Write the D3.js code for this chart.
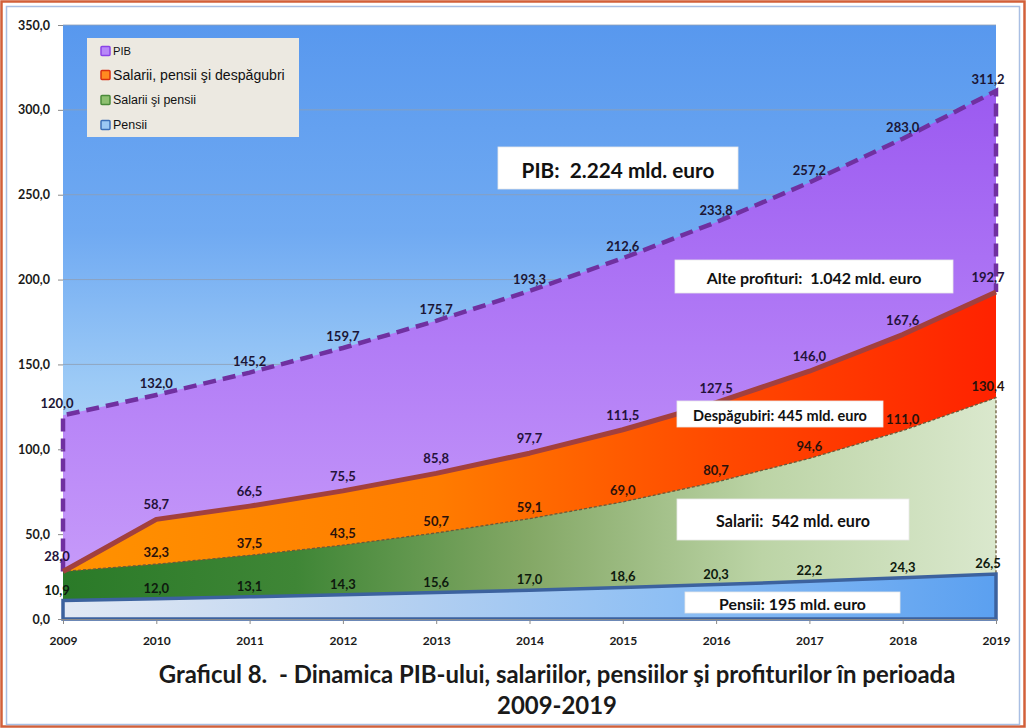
<!DOCTYPE html>
<html><head><meta charset="utf-8">
<script src="https://cdn.jsdelivr.net/npm/d3@7"></script>
<style>
html,body{margin:0;padding:0;background:#fff;}
svg{display:block;}
svg text{white-space:pre;}
</style></head>
<body>
<svg id="c" width="1026" height="728"></svg>
<script>
const years = [2009,2010,2011,2012,2013,2014,2015,2016,2017,2018,2019];
const pib = [120.0,132.0,145.2,159.7,175.7,193.3,212.6,233.8,257.2,283.0,311.2];
const salPensDesp = [28.0,58.7,66.5,75.5,85.8,97.7,111.5,127.5,146.0,167.6,192.7];
const salPens = [28.0,32.3,37.5,43.5,50.7,59.1,69.0,80.7,94.6,111.0,130.4];
const pensii = [10.9,12.0,13.1,14.3,15.6,17.0,18.6,20.3,22.2,24.3,26.5];
const yTicks = [0,50,100,150,200,250,300,350];
const legendLabels = ["PIB","Salarii, pensii şi despăgubri","Salarii şi pensii","Pensii"];
const annotations = ["PIB:  2.224 mld. euro","Alte profituri:  1.042 mld. euro","Despăgubiri: 445 mld. euro","Salarii:  542 mld. euro","Pensii: 195 mld. euro"];
const titleLines = ["Graficul 8.  - Dinamica PIB-ului, salariilor, pensiilor şi profiturilor în perioada","2009-2019"];

const svg = d3.select("#c");
const W = 1026, H = 728;
const x = d3.scaleLinear().domain([2009,2019]).range([63,996]);
const y = d3.scaleLinear().domain([0,350]).range([619,25]);
const fmt = v => d3.format(".1f")(v).replace(".", ",");
const FONT = "Lato, 'Open Sans', sans-serif";

function fitWidth(sel, target){
  const fs = +sel.attr("font-size");
  const w = sel.node().getComputedTextLength();
  if (w > 0) sel.attr("font-size", fs*target/w);
}

// outer borders
svg.append("rect").attr("x",1.5).attr("y",1.5).attr("width",W-3).attr("height",H-3)
  .attr("fill","#fff").attr("stroke","#d2603a").attr("stroke-width",2.5);
svg.append("rect").attr("x",6.5).attr("y",6.5).attr("width",W-13).attr("height",H-10)
  .attr("fill","none").attr("stroke","#a9bfe3").attr("stroke-width",1.5);

const defs = svg.append("defs");
function lin(id, x1,y1,x2,y2, stops){
  const g = defs.append("linearGradient").attr("id",id).attr("gradientUnits","userSpaceOnUse")
    .attr("x1",x1).attr("y1",y1).attr("x2",x2).attr("y2",y2);
  stops.forEach(s=>g.append("stop").attr("offset",s[0]).attr("stop-color",s[1]));
}
lin("bg", 0,y(350),0,y(0), [[0,"#5898ee"],[0.35,"#70aaf2"],[0.6,"#9ccaf6"],[0.8,"#bcdcf8"],[1,"#d6ebfc"]]);
lin("gPib", 0,y(320),0,y(0), [[0,"#9a58f0"],[0.5,"#b27cf6"],[1,"#caa0fa"]]);
lin("gOr", x(2009),0,x(2019),0, [[0,"#ff9200"],[0.4,"#ff7c00"],[0.7,"#ff4a00"],[1,"#ff2200"]]);
lin("gGr", x(2009),0,x(2019),0, [[0,"#2a7a28"],[0.25,"#3f8636"],[0.5,"#84a866"],[0.75,"#bcd4a6"],[1,"#dae8cd"]]);
lin("gPe", x(2009),0,x(2019),0, [[0,"#e2e9f4"],[0.3,"#bdd4f0"],[0.65,"#8ebff4"],[1,"#5ba0f0"]]);

// plot background
svg.append("rect").attr("x",x(2009)).attr("y",y(350)).attr("width",x(2019)-x(2009)).attr("height",y(0)-y(350))
  .attr("fill","url(#bg)");
// gridlines
svg.append("g").selectAll("line").data(yTicks.slice(1)).join("line")
  .attr("x1",x(2009)).attr("x2",x(2019)).attr("y1",d=>y(d)).attr("y2",d=>y(d))
  .attr("stroke","#8f9fb5").attr("stroke-width",1).attr("opacity",0.8);

const idx = d3.range(years.length);
const area = arr => d3.area().x(i=>x(years[i])).y0(y(0)).y1(i=>y(arr[i]))(idx);
const line = arr => d3.line().x(i=>x(years[i])).y(i=>y(arr[i]))(idx);

svg.append("path").attr("d",area(pib)).attr("fill","url(#gPib)");
svg.append("path").attr("d",area(salPensDesp)).attr("fill","url(#gOr)");
svg.append("path").attr("d",area(salPens)).attr("fill","url(#gGr)");
svg.append("path").attr("d",area(pensii)).attr("fill","url(#gPe)");

// PIB dashed outline (left, top, right)
const pibOutline = [[x(2009),y(salPensDesp[0])],[x(2009),y(pib[0])]]
  .concat(idx.map(i=>[x(years[i]),y(pib[i])]))
  .concat([[x(2019),y(salPensDesp[salPensDesp.length-1])]]);
svg.append("path").attr("d",d3.line()(pibOutline)).attr("fill","none")
  .attr("stroke","#7030a0").attr("stroke-width",4.5).attr("stroke-dasharray","13,7");
// green top thin dashed + right edge
const grOutline = idx.map(i=>[x(years[i]),y(salPens[i])]).concat([[x(2019),y(pensii[pensii.length-1])]]);
svg.append("path").attr("d",d3.line()(grOutline)).attr("fill","none")
  .attr("stroke","#6b5a3a").attr("stroke-width",1.3).attr("stroke-dasharray","3,2");
// orange top solid
svg.append("path").attr("d",line(salPensDesp)).attr("fill","none")
  .attr("stroke","#a2403e").attr("stroke-width",5).attr("stroke-linejoin","round");
// pensii outline
svg.append("path").attr("d",area(pensii)).attr("fill","none")
  .attr("stroke","#3c629e").attr("stroke-width",3.5).attr("stroke-linejoin","miter");

// axes
const yAxis = d3.axisLeft(y).tickValues(yTicks).tickSize(5).tickFormat(fmt);
const gy = svg.append("g").attr("transform",`translate(${x(2009)},0)`).call(yAxis);
gy.select(".domain").remove();
gy.selectAll("line").attr("stroke","#8a8a8a");
gy.selectAll("text").attr("x",-13).attr("font-family",FONT).attr("font-weight","bold")
  .attr("font-size",12.5).attr("fill","#1a1a1a");
const xAxis = d3.axisBottom(x).tickValues(years).tickSize(5).tickFormat(d3.format("d"));
const gx = svg.append("g").attr("transform",`translate(0,${y(0)})`).call(xAxis);
gx.select(".domain").attr("stroke","#8a8a8a");
gx.selectAll("line").attr("stroke","#8a8a8a");
gx.selectAll("text").attr("y",17).attr("font-family",FONT).attr("font-weight","bold")
  .attr("font-size",12).attr("fill","#1a1a1a");

// data labels (a label identical to the one of the series above at the same point is shown once)
function labels(arr, dy, color, above){
  const show = idx.filter(i => !(above && above[i] === arr[i]));
  svg.append("g").selectAll("text").data(show).join("text")
    .attr("x",i=> x(years[i]) + (i===years.length-1 ? -8 : (i===0 ? -6 : 0)))
    .attr("y",i=> y(arr[i]) - dy)
    .attr("text-anchor","middle").attr("dominant-baseline","central")
    .attr("font-family",FONT).attr("font-weight","bold").attr("font-size",13)
    .attr("fill",color).text(i=>fmt(arr[i]));
}
labels(pib, 12, "#1c1636");
labels(salPensDesp, 15, "#24123a");
labels(salPens, 12, "#2a120c", salPensDesp);
labels(pensii, 11, "#0e1a0e");

// legend
const lg = svg.append("g");
lg.append("rect").attr("x",87).attr("y",38).attr("width",212).attr("height",99).attr("fill","#ece9e1");
const legColors = [["#8a44e8","#b888f8"],["#d83010","#ff8a20"],["#4a8a3a","#8ec070"],["#3c6fb8","#9cc8f4"]];
const legY = [51,75,100,125];
const legW = [18,172,83,34];
legendLabels.forEach((t,i)=>{
  lg.append("rect").attr("x",101).attr("y",legY[i]-4.5).attr("width",9).attr("height",9)
    .attr("fill",legColors[i][1]).attr("stroke",legColors[i][0]).attr("stroke-width",1.5).attr("rx",1);
  const tx = lg.append("text").attr("x",113).attr("y",legY[i]).attr("dominant-baseline","central")
    .attr("font-family","'Liberation Sans', Arial, sans-serif").attr("font-size",12)
    .attr("fill","#111").text(t);
  fitWidth(tx, legW[i]);
});

// annotation boxes
const boxes = [
  {x0:498,y0:147,x1:738,y1:189,tw:193},
  {x0:675,y0:260,x1:953,y1:293,tw:215},
  {x0:677,y0:401,x1:883,y1:427,tw:174},
  {x0:677,y0:499,x1:909,y1:540,tw:154},
  {x0:685,y0:592,x1:900,y1:613,tw:147}
];
const ag = svg.append("g");
annotations.forEach((t,i)=>{
  const b = boxes[i];
  ag.append("rect").attr("x",b.x0).attr("y",b.y0).attr("width",b.x1-b.x0).attr("height",b.y1-b.y0)
    .attr("fill","#fff").attr("stroke","#e8e8e8").attr("stroke-width",0.8);
  const tx = ag.append("text").attr("x",(b.x0+b.x1)/2).attr("y",(b.y0+b.y1)/2+1).attr("text-anchor","middle")
    .attr("dominant-baseline","central").attr("font-family",FONT).attr("font-weight","bold")
    .attr("font-size",14).attr("fill","#111").text(t);
  fitWidth(tx, b.tw);
});

// title
const t1 = svg.append("text").attr("x",557).attr("y",673).attr("text-anchor","middle")
  .attr("dominant-baseline","central").attr("font-family",FONT).attr("font-weight","bold")
  .attr("font-size",20).attr("fill","#1a1a1a").text(titleLines[0]);
fitWidth(t1, 797);
svg.append("text").attr("x",557).attr("y",704).attr("text-anchor","middle")
  .attr("dominant-baseline","central").attr("font-family",FONT).attr("font-weight","bold")
  .attr("font-size",t1.attr("font-size")).attr("fill","#1a1a1a").text(titleLines[1]);
</script>
</body></html>
